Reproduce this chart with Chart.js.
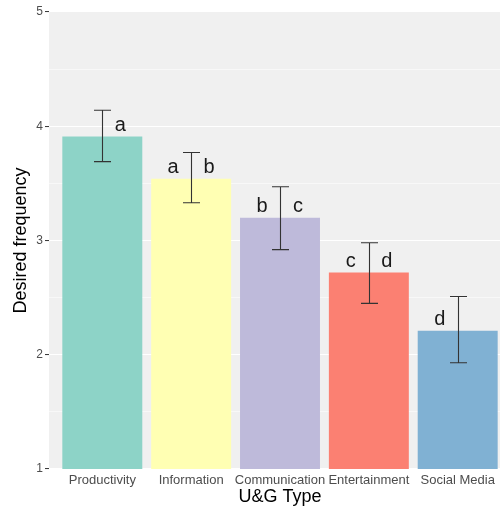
<!DOCTYPE html>
<html>
<head>
<meta charset="utf-8">
<script src="https://cdn.jsdelivr.net/npm/chart.js@4"></script>
<style>
  html, body { margin: 0; padding: 0; background: #fff; overflow: hidden; }
  #wrap { width: 511px; height: 508px; }
</style>
</head>
<body>
<div id="wrap"><canvas id="chart" width="511" height="508"></canvas></div>
<script>
const categories = ['Productivity', 'Information', 'Communication', 'Entertainment', 'Social Media'];
const means = [3.91, 3.54, 3.20, 2.72, 2.21];
const lower = [3.69, 3.33, 2.92, 2.45, 1.93];
const upper = [4.14, 3.77, 3.47, 2.98, 2.51];
const leftLetters = ['', 'a', 'b', 'c', 'd'];
const rightLetters = ['a', 'b', 'c', 'd', ''];
const barColors = ['#8DD3C7', '#FFFFB3', '#BEBADA', '#FB8072', '#80B1D3'];
const yTicks = [1, 2, 3, 4, 5];

const FONT = '"Liberation Sans", Arial, Helvetica, sans-serif';

// grey panel behind everything, like ggplot's theme_gray
const panelBg = {
  id: 'panelBg',
  beforeDraw(chart) {
    const { ctx, chartArea: a } = chart;
    ctx.save();
    ctx.fillStyle = '#F0F0F0';
    ctx.fillRect(a.left, a.top, a.right - a.left, a.bottom - a.top);
    ctx.restore();
  }
};

// error bars + significance letters
const errorBars = {
  id: 'errorBars',
  afterDatasetsDraw(chart) {
    const { ctx, scales: { x, y } } = chart;
    ctx.save();
    ctx.strokeStyle = '#333333';
    ctx.lineWidth = 1.1;
    categories.forEach((c, i) => {
      const px = Math.round(x.getPixelForValue(i + 1)) + 0.5;
      const top = y.getPixelForValue(upper[i]);
      const bot = y.getPixelForValue(lower[i]);
      ctx.beginPath();
      ctx.moveTo(px, top); ctx.lineTo(px, bot);
      ctx.moveTo(px - 8.5, top); ctx.lineTo(px + 8.5, top);
      ctx.moveTo(px - 8.5, bot); ctx.lineTo(px + 8.5, bot);
      ctx.stroke();
    });
    ctx.fillStyle = '#1A1A1A';
    ctx.font = '20px ' + FONT;
    ctx.textAlign = 'center';
    ctx.textBaseline = 'middle';
    categories.forEach((c, i) => {
      const px = x.getPixelForValue(i + 1);
      const py = y.getPixelForValue(means[i]) - 11;
      if (leftLetters[i]) ctx.fillText(leftLetters[i], px - 18, py);
      if (rightLetters[i]) ctx.fillText(rightLetters[i], px + 18, py);
    });
    ctx.restore();
  }
};

new Chart(document.getElementById('chart'), {
  type: 'bar',
  data: {
    datasets: [{
      data: categories.map((c, i) => ({ x: i + 1, y: means[i] })),
      backgroundColor: barColors,
      borderWidth: 0,
      barPercentage: 0.9,
      categoryPercentage: 1
    }]
  },
  options: {
    responsive: false,
    animation: false,
    layout: { padding: { top: 12, right: 0, bottom: 0, left: 0 } },
    plugins: { legend: { display: false }, tooltip: { enabled: false } },
    scales: {
      x: {
        type: 'linear',
        min: 0.4,
        max: 5.6,
        offset: false,
        afterBuildTicks: s => { s.ticks = categories.map((c, i) => ({ value: i + 1 })); },
        afterFit: s => { s.height = 39; },
        grid: { display: false, drawTicks: false, offset: false },
        border: { display: false },
        ticks: {
          autoSkip: false,
          maxRotation: 0,
          padding: 4,
          color: '#4D4D4D',
          font: { family: FONT, size: 13 },
          callback: v => categories[v - 1]
        },
        title: {
          display: true,
          text: 'U&G Type',
          color: '#000',
          font: { family: FONT, size: 18 },
          padding: { top: 1, bottom: 0 }
        }
      },
      y: {
        min: 1,
        max: 5,
        afterBuildTicks: s => {
          const t = [];
          for (let i = 0; i < yTicks.length; i++) {
            t.push({ value: yTicks[i] });
            if (i < yTicks.length - 1) t.push({ value: yTicks[i] + 0.5 });
          }
          s.ticks = t;
        },
        afterFit: s => { s.width = 49; },
        border: { display: false },
        grid: {
          color: '#FFFFFF',
          lineWidth: ctx => (ctx.tick && Number.isInteger(ctx.tick.value)) ? 1.1 : 0.55,
          tickColor: ctx => (ctx.tick && Number.isInteger(ctx.tick.value)) ? '#333333' : 'rgba(0,0,0,0)',
          tickWidth: 1,
          tickLength: 4,
          drawTicks: true
        },
        ticks: {
          padding: 2,
          color: '#4D4D4D',
          font: { family: FONT, size: 12 },
          callback: v => Number.isInteger(v) ? String(v) : ''
        },
        title: {
          display: true,
          text: 'Desired frequency',
          color: '#000',
          font: { family: FONT, size: 18 },
          padding: { top: 10, bottom: 0 }
        }
      }
    }
  },
  plugins: [panelBg, errorBars]
});
</script>
</body>
</html>
